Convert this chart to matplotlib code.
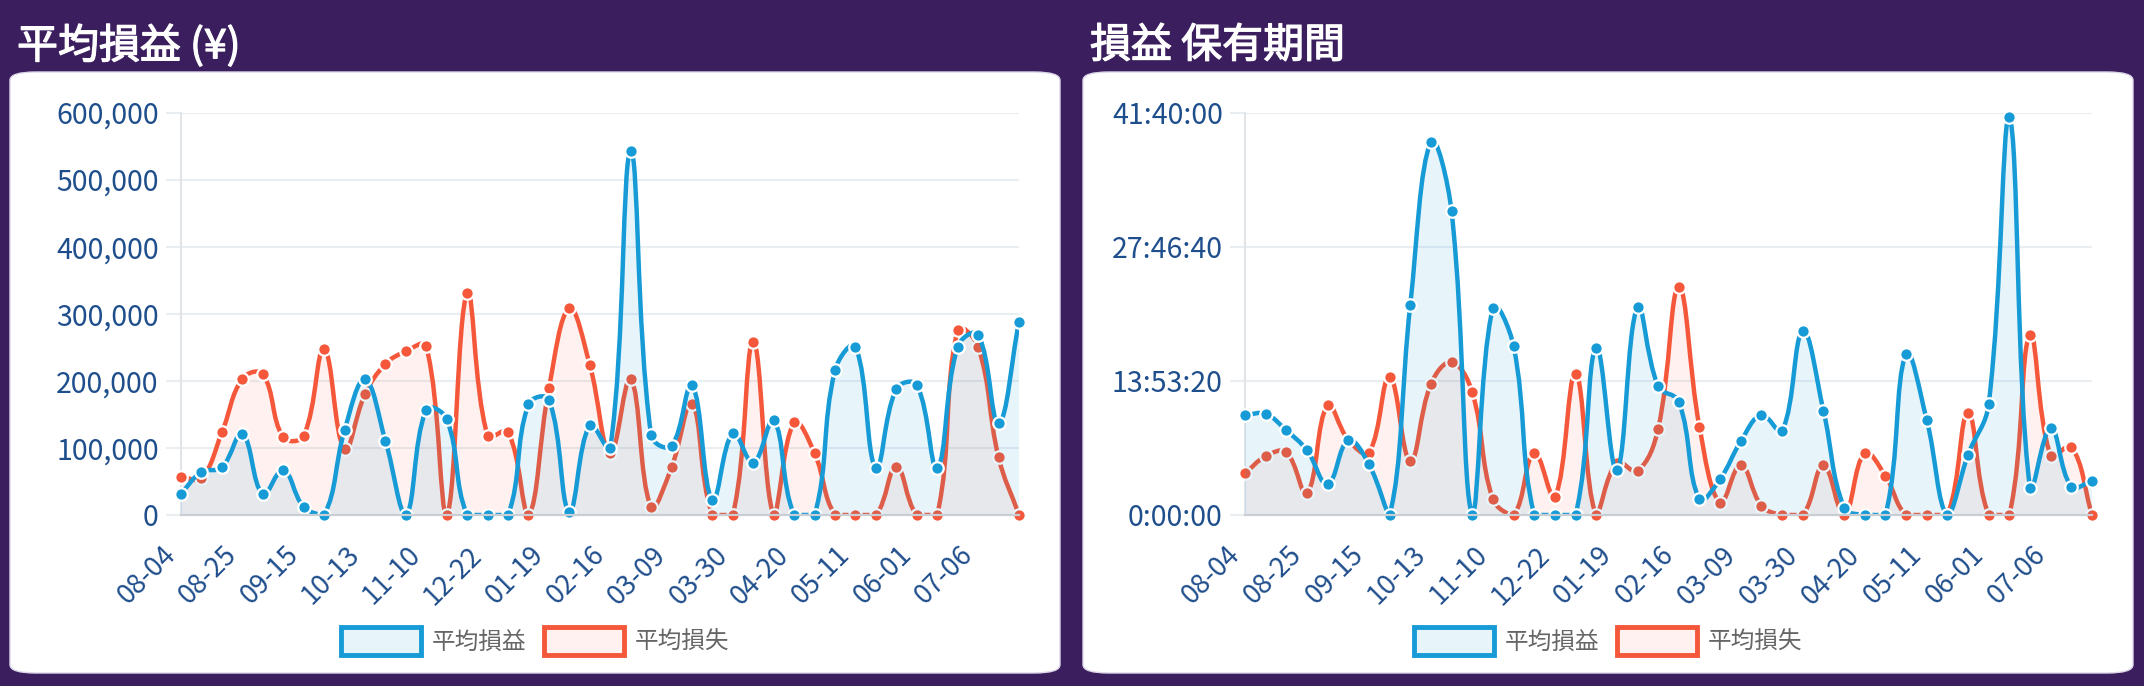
import numpy as np
import matplotlib
matplotlib.use("Agg")
import matplotlib.pyplot as plt
import matplotlib.patheffects as pe
from matplotlib.path import Path
from matplotlib.patches import PathPatch, FancyBboxPatch, Patch
from matplotlib.ticker import FuncFormatter, MultipleLocator

plt.rcParams['font.family'] = ['Noto Sans CJK JP', 'DejaVu Sans']

# === données ===
dates = ["08-04", "08-11", "08-18", "08-25", "09-01", "09-08", "09-15", "09-22", "10-06",
         "10-13", "10-20", "11-03", "11-10", "11-17", "12-08", "12-22", "12-29", "01-12",
         "01-19", "01-26", "02-09", "02-16", "02-23", "03-02", "03-09", "03-16", "03-23",
         "03-30", "04-06", "04-13", "04-20", "04-27", "05-04", "05-11", "05-18", "05-25",
         "06-01", "06-15", "06-29", "07-06", "07-13", "07-20"]

# 平均損益 (¥)
pl_profit = [32000, 64000, 71000, 121000, 31000, 67000, 12000, 0, 126000, 202000, 111000,
             0, 157000, 143000, 0, 0, 0, 165000, 172000, 5000, 134000, 100000, 542000,
             119000, 103000, 194000, 22000, 122000, 78000, 141000, 0, 0, 216000, 251000,
             70000, 188000, 194000, 70000, 251000, 269000, 137000, 288000]
pl_loss = [57000, 55000, 123000, 203000, 210000, 116000, 118000, 247000, 98000, 180000,
           225000, 244000, 252000, 0, 331000, 118000, 124000, 0, 189000, 308000, 224000,
           92000, 203000, 12000, 71000, 166000, 0, 0, 258000, 0, 138000, 92000, 0, 0, 0,
           72000, 0, 0, 276000, 251000, 86000, 0]

# 損益 保有期間 (secondes)
hold_profit = [37290, 37660, 31570, 24110, 11440, 27840, 18890, 0, 78300, 139090, 113110,
               0, 77310, 63020, 0, 0, 0, 62400, 16660, 77560, 47980, 42260, 5970, 13420,
               27470, 37290, 31320, 68490, 38910, 2730, 0, 0, 60040, 35430, 0, 22500,
               41390, 148410, 10070, 32440, 10570, 12680]
hold_loss = [15540, 21880, 23370, 8080, 40900, 28000, 23240, 51580, 20140, 48850, 56930,
             45740, 5840, 0, 23240, 6710, 52700, 0, 19500, 16410, 32190, 85020, 32820,
             4600, 18650, 3480, 0, 0, 18520, 0, 23120, 14540, 0, 0, 0, 37910, 0, 0,
             67250, 22130, 25480, 0]

series_labels = ["平均損益", "平均損失"]
titles = ["平均損益 (¥)", "損益 保有期間"]

BG = "#3b1e5e"
BLUE = "#169bd6"
RED = "#f5573a"
TICK_COL = "#1f4e8c"
GRID_COL = "#e9eef3"

W, H = 2144, 686
fig = plt.figure(figsize=(W / 100, H / 100), dpi=100)
fig.patch.set_facecolor(BG)


def fx(px):
    return px / W


def fy(py):
    return 1 - py / H


# courbe de bezier facon Chart.js (tension 0.4)
def spline(vals, ymax, w_px, h_px, tension=0.4):
    n = len(vals)
    sx = w_px / (n - 1)
    sy = h_px / ymax
    px = np.arange(n) * sx
    py = np.asarray(vals, dtype=float) * sy
    cin = np.zeros((n, 2))
    cout = np.zeros((n, 2))
    for i in range(n):
        a = max(i - 1, 0)
        b = min(i + 1, n - 1)
        d01 = np.hypot(px[i] - px[a], py[i] - py[a])
        d12 = np.hypot(px[b] - px[i], py[b] - py[i])
        tot = d01 + d12
        s01 = d01 / tot if tot else 0
        s12 = d12 / tot if tot else 0
        dx, dy = px[b] - px[a], py[b] - py[a]
        cin[i] = (px[i] - tension * s01 * dx, py[i] - tension * s01 * dy)
        cout[i] = (px[i] + tension * s12 * dx, py[i] + tension * s12 * dy)
    cin[:, 1] = np.clip(cin[:, 1], 0, h_px)
    cout[:, 1] = np.clip(cout[:, 1], 0, h_px)
    verts = [(px[0], py[0])]
    codes = [Path.MOVETO]
    for i in range(n - 1):
        verts += [tuple(cout[i]), tuple(cin[i + 1]), (px[i + 1], py[i + 1])]
        codes += [Path.CURVE4] * 3
    verts = np.array(verts)
    verts[:, 0] /= sx
    verts[:, 1] /= sy
    return verts, codes


def hms(v, pos):
    v = int(round(v))
    return f"{v // 3600}:{(v % 3600) // 60:02d}:{v % 60:02d}"


def draw_panel(left, right, title, profit, loss, ymax, ystep, fmt):
    # carte blanche arrondie
    card = FancyBboxPatch((fx(left), fy(673)), fx(right - left), (673 - 72) / H,
                          boxstyle="round,pad=0,rounding_size=0.012",
                          transform=fig.transFigure, facecolor="white",
                          edgecolor="#dcd6e8", linewidth=1, zorder=-1)
    fig.patches.append(card)
    fig.text(fx(left + 7), fy(46), title, color="white", fontsize=29.5,
             va="center", ha="left",
             path_effects=[pe.withStroke(linewidth=0.9, foreground="white")])

    ax_l = left + 171 if left < 500 else left + 162
    ax_r = right - 41
    ax = fig.add_axes([fx(ax_l), fy(515), fx(ax_r - ax_l), (515 - 112.5) / H])
    ax.set_zorder(1)
    ax.set_facecolor("none")
    w_px = ax_r - ax_l
    h_px = 515 - 112.5
    n = len(profit)
    x = np.arange(n)

    # perte d'abord, puis le profit par-dessus
    for vals, col, fill, z in [(loss, RED, (245 / 255, 87 / 255, 58 / 255, 0.08), 2),
                               (profit, BLUE, (22 / 255, 155 / 255, 214 / 255, 0.10), 6)]:
        verts, codes = spline(vals, ymax, w_px, h_px)
        fverts = np.vstack([verts, [[n - 1, 0], [0, 0], [0, 0]]])
        fcodes = codes + [Path.LINETO, Path.LINETO, Path.CLOSEPOLY]
        ax.add_patch(PathPatch(Path(fverts, fcodes), facecolor=fill, edgecolor="none",
                               zorder=z))
        ax.add_patch(PathPatch(Path(verts, codes), facecolor="none", edgecolor=col,
                               linewidth=3.2, capstyle="round", joinstyle="round",
                               zorder=z + 1))
        ax.plot(x, vals, linestyle="none", marker="o", markersize=9,
                markerfacecolor=col, markeredgecolor="white", markeredgewidth=1.6,
                zorder=z + 2, clip_on=False)

    ax.set_xlim(0, n - 1)
    ax.set_ylim(0, ymax)
    ax.yaxis.set_major_locator(MultipleLocator(ystep))
    ax.yaxis.set_major_formatter(FuncFormatter(fmt))
    ax.set_xticks(x[::3])
    ax.set_xticklabels(dates[::3], rotation=45, ha="right", va="top")
    ax.grid(axis="y", color=GRID_COL, linewidth=1.5, zorder=0)
    ax.set_axisbelow(True)
    for s in ["top", "right"]:
        ax.spines[s].set_visible(False)
    ax.spines["left"].set_color("#e1e4e9")
    ax.spines["left"].set_linewidth(1.5)
    ax.spines["bottom"].set_color("#c9cdd4")
    ax.spines["bottom"].set_linewidth(1.6)
    ax.spines["bottom"].set_zorder(10)
    ax.tick_params(axis="y", length=11, width=1.5, color=GRID_COL, pad=5,
                   labelsize=20.5, labelcolor=TICK_COL)
    ax.tick_params(axis="x", length=0, pad=19, labelsize=19.5, labelcolor=TICK_COL)

    handles = [Patch(facecolor=(22 / 255, 155 / 255, 214 / 255, 0.1), edgecolor=BLUE,
                     linewidth=3.5),
               Patch(facecolor=(245 / 255, 87 / 255, 58 / 255, 0.08), edgecolor=RED,
                     linewidth=3.5)]
    fig.legend(handles, series_labels, loc="center",
               bbox_to_anchor=(fx((left + right) / 2), fy(641)), ncol=2, frameon=False,
               fontsize=17, labelcolor="#666666", handlelength=3.4, handleheight=1.5,
               handletextpad=0.45, columnspacing=0.75)
    return ax


draw_panel(10, 1060, titles[0], pl_profit, pl_loss, 600000, 100000,
           lambda v, p: f"{v:,.0f}")
draw_panel(1083, 2133, titles[1], hold_profit, hold_loss, 150000, 50000, hms)

fig.savefig("out.png", dpi=100, facecolor=BG)
